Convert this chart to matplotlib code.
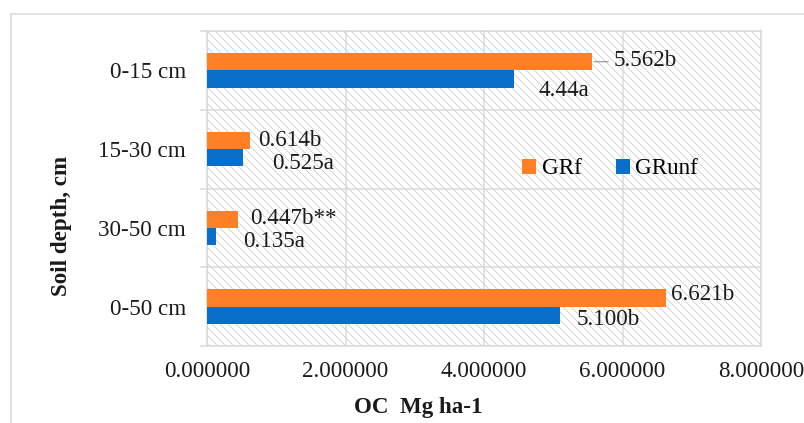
import matplotlib
matplotlib.use("Agg")
import matplotlib.pyplot as plt
import numpy as np
from matplotlib.lines import Line2D
from matplotlib.ticker import FormatStrFormatter

# data
depths = ["0-15 cm", "15-30 cm", "30-50 cm", "0-50 cm"]
grf = [5.562, 0.614, 0.447, 6.621]
grunf = [4.44, 0.525, 0.135, 5.100]
grf_labels = ["5.562b", "0.614b", "0.447b**", "6.621b"]
grunf_labels = ["4.44a", "0.525a", "0.135a", "5.100b"]
x_ticks = [0, 2, 4, 6, 8]

ORANGE = "#FF7F27"
BLUE = "#0A6ECB"
GRID = "#d9d9d9"

plt.rcParams["font.family"] = ["Liberation Serif", "DejaVu Serif"]
plt.rcParams["hatch.linewidth"] = 0.8
FS = 23

W, H = 804, 423
fig = plt.figure(figsize=(W / 72, H / 72), dpi=72)
ax = fig.add_axes([207 / W, 1 - 346 / H, (761 - 207) / W, (346 - 31) / H])

y = np.arange(len(depths))
bh = 0.22
ax.barh(y - bh / 2, grf, height=bh, color=ORANGE, label="GRf", zorder=3)
ax.barh(y + bh / 2, grunf, height=bh, color=BLUE, label="GRunf", zorder=3)

ax.set_xlim(0, 8)
ax.set_ylim(3.5, -0.5)

# hatched plot area
ax.patch.set_facecolor("white")
ax.patch.set_hatch("\\\\\\")
ax.patch.set_edgecolor("#cccccc")
ax.patch.set_linewidth(0)

ax.set_xticks(x_ticks)
ax.xaxis.set_major_formatter(FormatStrFormatter("%.6f"))
ax.set_yticks(y)
ax.set_yticklabels(depths)
ax.set_yticks(np.arange(-0.5, 4, 1), minor=True)
ax.tick_params(axis="x", length=0, pad=15, labelsize=FS, labelcolor="#1a1a1a")
ax.tick_params(axis="y", which="major", length=0, pad=21, labelsize=FS, labelcolor="#1a1a1a")
ax.tick_params(axis="y", which="minor", length=7, width=1.5, color=GRID)

ax.grid(axis="x", color=GRID, linewidth=1.5, zorder=1)
ax.grid(axis="y", which="minor", color=GRID, linewidth=1.5, zorder=1)
ax.set_axisbelow(True)
for s in ax.spines.values():
    s.set_color(GRID)
    s.set_linewidth(1.5)

# data labels (offsets in pixels from the bar end)
grf_off = [(21, 1.5), (9, 0), (12, 1), (5, 3)]
grunf_off = [(24, 11.5), (29, 6), (27, 4.5), (16, 4.5)]
for i in range(len(depths)):
    ax.annotate(grf_labels[i], (grf[i], y[i] - bh / 2), xytext=grf_off[i],
                textcoords="offset points", ha="left", va="center",
                fontsize=FS, color="#1a1a1a", zorder=5)
    ax.annotate(grunf_labels[i], (grunf[i], y[i] + bh / 2), xytext=(grunf_off[i][0], -grunf_off[i][1]),
                textcoords="offset points", ha="left", va="center",
                fontsize=FS, color="#1a1a1a", zorder=5)
# leader line for the 0-15 cm GRf label
ax.annotate("", (grf[0], y[0] - bh / 2), xytext=(16, 0), textcoords="offset points",
            arrowprops=dict(arrowstyle="-", color="#999999", lw=1.2,
                            shrinkA=0, shrinkB=2))

ax.legend(loc="center left", bbox_to_anchor=(522 / W, 1 - 169 / H),
          bbox_transform=fig.transFigure, ncol=2, frameon=False,
          fontsize=FS, handlelength=0.6, handleheight=0.6,
          handletextpad=0.25, columnspacing=1.5, borderpad=0, borderaxespad=0)

fig.text(62 / W, 1 - 226 / H, "Soil depth, cm", rotation=90, ha="center",
         va="center", fontsize=FS, fontweight="bold", color="#1a1a1a")
fig.text(418 / W, 1 - 408 / H, "OC  Mg ha-1", ha="center", va="center",
         fontsize=FS, fontweight="bold", color="#1a1a1a")

# outer chart border
fig.add_artist(Line2D([11 / W, 11 / W], [0, 1 - 14 / H], transform=fig.transFigure,
                      color=GRID, lw=1.5))
fig.add_artist(Line2D([11 / W, 1], [1 - 14 / H, 1 - 14 / H], transform=fig.transFigure,
                      color=GRID, lw=1.5))

fig.savefig("out.png", dpi=72, facecolor="white")
